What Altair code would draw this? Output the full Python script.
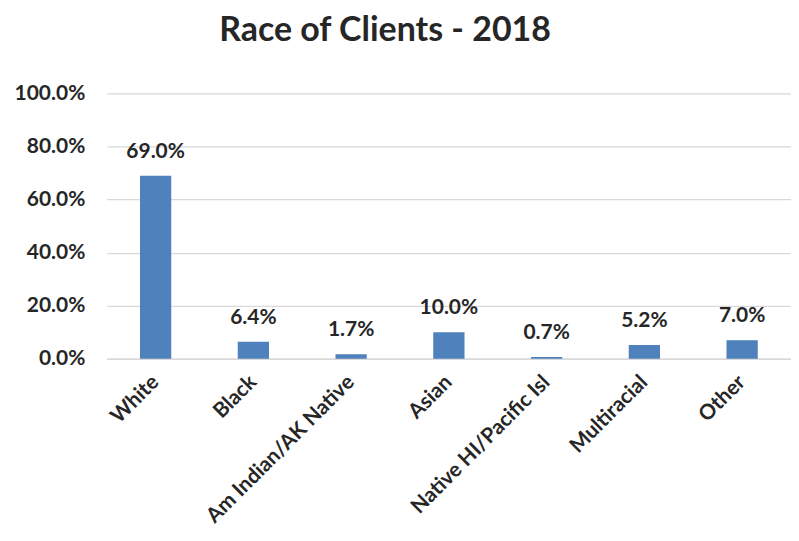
import altair as alt
import pandas as pd

categories = ["White", "Black", "Am Indian/AK Native", "Asian", "Native HI/Pacific Isl", "Multiracial", "Other"]
values = [69.0, 6.4, 1.7, 10.0, 0.7, 5.2, 7.0]
labels = ["69.0%", "6.4%", "1.7%", "10.0%", "0.7%", "5.2%", "7.0%"]

df = pd.DataFrame({"cat": categories, "val": [v / 100 for v in values], "lab": labels})

FONT = "Lato"

x = alt.X("cat:N", sort=categories, title=None,
          scale=alt.Scale(paddingInner=0.68, paddingOuter=0.34),
          axis=alt.Axis(labelAngle=-45, labelAlign="right", labelBaseline="middle",
                        labelFont=FONT, labelFontSize=21, labelFontWeight="bold",
                        labelColor="#262626", ticks=False, labelPadding=20, labelLimit=0,
                        domainColor="#d9d9d9", domainWidth=1.5))
y = alt.Y("val:Q", title=None,
          scale=alt.Scale(domain=[0, 1]),
          axis=alt.Axis(format=".1%", values=[0, 0.2, 0.4, 0.6, 0.8, 1.0],
                        labelFont=FONT, labelFontSize=21, labelFontWeight="bold",
                        labelColor="#262626", ticks=False, domain=False,
                        labelPadding=22, gridColor="#d9d9d9", gridWidth=1.3))

bars = alt.Chart(df).mark_bar(color="#4F81BD").encode(x=x, y=y)
text = alt.Chart(df).mark_text(dy=-24, font=FONT, fontSize=21, fontWeight="bold",
                               color="#262626").encode(x=alt.X("cat:N", sort=categories), y="val:Q", text="lab:N")

chart = (bars + text).properties(
    width=686, height=266,
    title=alt.TitleParams("Race of Clients - 2018", font=FONT, fontSize=34,
                          fontWeight="bold", color="#262626", anchor="middle",
                          offset=35, dx=-64),
    autosize=alt.AutoSizeParams(type="none"),
    padding={"left": 99, "top": 85, "right": 0, "bottom": 170},
).configure_view(stroke=None)

chart.save("out.html", embed_options={"renderer": "svg", "actions": False})
